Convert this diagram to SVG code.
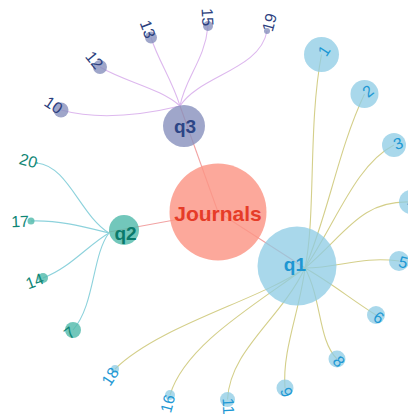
<svg xmlns="http://www.w3.org/2000/svg" width="408" height="417" viewBox="0 0 408 417">
<style>
text{font-family:"Liberation Sans",Arial,sans-serif}
.lk{fill:none;stroke-width:1.1}
.l1{stroke:#d4cf8a}
.l2{stroke:#8dd2dc}
.l3{stroke:#ddb8ee}
.lj{stroke:#f2a3a3}
.c1{fill:#8ccbe4;fill-opacity:.75}
.c2{fill:#4fb9aa;fill-opacity:.8}
.c3{fill:#8790bd;fill-opacity:.8}
.cj{fill:#fb9585;fill-opacity:.82}
.t1{fill:#1e98d4;font-size:16px}
.t2{fill:#0f8675;font-size:16px}
.t3{fill:#2c3f7e;font-size:16px}
.s{text-anchor:start}
.e{text-anchor:end}
</style>
<rect width="408" height="417" fill="#fff"/>
<g id="connectors">
<path class="lk lj" d="M218,212 L180,106"/>
<path class="lk lj" d="M218,212 L109,232"/>
<path class="lk lj" d="M218,212 L305,268"/>
<path class="lk l1" d="M305,268 C316,215 308,125 321.5,54.5"/>
<path class="lk l1" d="M305,268 C328,215 338,150 364.5,94"/>
<path class="lk l1" d="M305,268 C335,225 355,165 394,145"/>
<path class="lk l1" d="M305,268 C345,235 360,200 411,202"/>
<path class="lk l1" d="M305,268 C340,268 360,256 399,261"/>
<path class="lk l1" d="M305,268 C330,282 352,300 376,315"/>
<path class="lk l1" d="M305,268 C322,300 318,340 337,359"/>
<path class="lk l1" d="M305,268 C300,310 282,350 285,388"/>
<path class="lk l1" d="M305,268 C280,320 230,350 227.5,399.5"/>
<path class="lk l1" d="M305,268 C255,305 185,345 170,395"/>
<path class="lk l1" d="M305,268 C260,300 160,325 115,369"/>
<path class="lk l3" d="M61,110 C90,118 130,118 180,106"/>
<path class="lk l3" d="M100,67 C125,82 160,88 180,106"/>
<path class="lk l3" d="M151,37.5 C158,60 172,80 180,106"/>
<path class="lk l3" d="M208,26 C205,60 185,78 180,106"/>
<path class="lk l3" d="M267,31 C260,70 200,75 180,106"/>
<path class="lk l2" d="M37,163 C68,166 80,215 109,233"/>
<path class="lk l2" d="M31,221 C60,220 85,227 109,233"/>
<path class="lk l2" d="M43,278 C70,268 88,245 109,233"/>
<path class="lk l2" d="M73,330 C95,305 92,255 109,233"/>
</g>
<g id="journals"><circle class="cj" cx="218" cy="212" r="48.5"/><text x="218" y="221" text-anchor="middle" font-size="21" font-weight="bold" fill="#e63c28">Journals</text></g>
<g id="q1"><circle class="c1" cx="297" cy="266" r="39.5"/><text x="306" y="271" text-anchor="end" font-size="19" font-weight="bold" fill="#1e96d2">q1</text></g>
<g id="q2"><circle class="c2" cx="124" cy="230" r="15"/><text x="125.5" y="239.5" text-anchor="middle" font-size="19" font-weight="bold" fill="#0b7a6b">q2</text></g>
<g id="q3"><circle class="c3" cx="184" cy="126" r="21"/><text x="185" y="132.5" text-anchor="middle" font-size="19" font-weight="bold" fill="#2c4586">q3</text></g>
<g id="n1"><circle class="c1" cx="321.5" cy="54.5" r="17.5"/><text class="t1 s" dy=".35em" transform="translate(321.5,54.5) rotate(-56.9)">1</text></g>
<g id="n2"><circle class="c1" cx="364.5" cy="94" r="14"/><text class="t1 s" dy=".35em" transform="translate(364.5,94) rotate(-39.1)">2</text></g>
<g id="n3"><circle class="c1" cx="394" cy="145" r="12"/><text class="t1 s" dy=".35em" transform="translate(394,145) rotate(-21.1)">3</text></g>
<g id="n4"><circle class="c1" cx="411" cy="202" r="12"/><text class="t1 s" dy=".35em" transform="translate(407,202) rotate(-3.3)">4</text></g>
<g id="n5"><circle class="c1" cx="399" cy="261" r="10"/><text class="t1 s" dy=".35em" transform="translate(399,261) rotate(14.9)">5</text></g>
<g id="n6"><circle class="c1" cx="376" cy="315" r="9"/><text class="t1 s" dy=".35em" transform="translate(375,315) rotate(32.8)">6</text></g>
<g id="n8"><circle class="c1" cx="337" cy="359" r="8.5"/><text class="t1 s" dy=".35em" transform="translate(336,358) rotate(50.8)">8</text></g>
<g id="n9"><circle class="c1" cx="285" cy="388" r="8.5"/><text class="t1 s" dy=".35em" transform="translate(285,388) rotate(69)">9</text></g>
<g id="n11"><circle class="c1" cx="227.5" cy="399.5" r="7.5"/><text class="t1 s" dy=".35em" transform="translate(228,398) rotate(86.9)">11</text></g>
<g id="n16"><circle class="c1" cx="170" cy="395" r="5"/><text class="t1 e" dy=".35em" transform="translate(170,395) rotate(-74.9)">16</text></g>
<g id="n18"><circle class="c1" cx="115" cy="369" r="4"/><text class="t1 e" dy=".35em" transform="translate(115,369) rotate(-56.6)">18</text></g>
<g id="n10"><circle class="c3" cx="61" cy="110" r="7.5"/><text class="t3 e" dy=".35em" transform="translate(61,110) rotate(33.5)">10</text></g>
<g id="n12"><circle class="c3" cx="100" cy="67" r="7"/><text class="t3 e" dy=".35em" transform="translate(100,67) rotate(51.2)">12</text></g>
<g id="n13"><circle class="c3" cx="151" cy="37.5" r="6"/><text class="t3 e" dy=".35em" transform="translate(151,37.5) rotate(69.2)">13</text></g>
<g id="n15"><circle class="c3" cx="208" cy="26" r="5"/><text class="t3 e" dy=".35em" transform="translate(208,26) rotate(87)">15</text></g>
<g id="n19"><circle class="c3" cx="267" cy="31" r="3"/><text class="t3 s" dy=".35em" transform="translate(267,31) rotate(-75)">19</text></g>
<g id="n20"><circle class="c2" cx="37" cy="163" r="1"/><text class="t2 e" dy=".35em" transform="translate(37,163) rotate(15.4)">20</text></g>
<g id="n17"><circle class="c2" cx="31" cy="221" r="3.5"/><text class="t2 e" dy=".35em" transform="translate(29,221) rotate(-2.4)">17</text></g>
<g id="n14"><circle class="c2" cx="43" cy="278" r="5"/><text class="t2 e" dy=".35em" transform="translate(43,278) rotate(-20.4)">14</text></g>
<g id="n7"><circle class="c2" cx="73" cy="330" r="8"/><text class="t2 e" dy=".35em" transform="translate(73,330) rotate(-38.9)">7</text></g>
</svg>
